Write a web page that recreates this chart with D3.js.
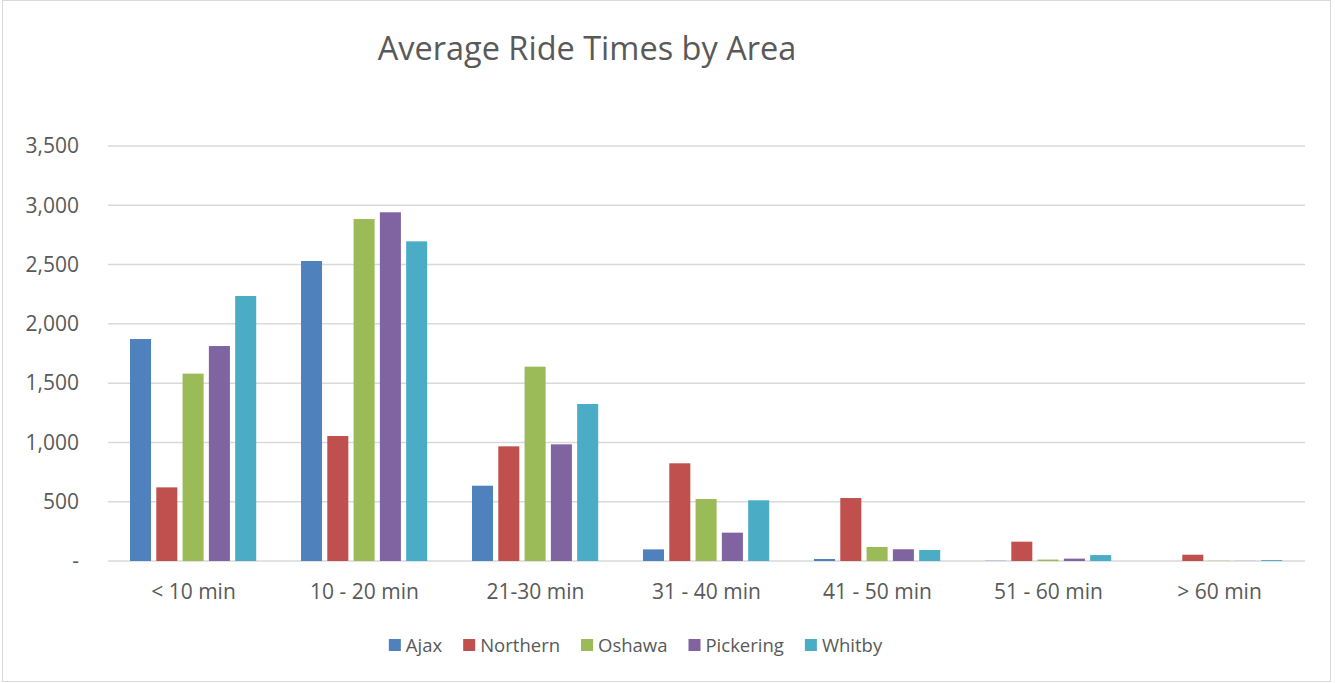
<!DOCTYPE html>
<html lang="en">
<head>
  <meta charset="UTF-8">
  <title>Average Ride Times by Area</title>
  <style>
    html, body { margin: 0; background: #fff; }
    text { font-family: 'Open Sans', sans-serif; fill: #595959; }
    .grid line { stroke: #d9d9d9; stroke-width: 1.5px; }
  </style>
</head>
<body>
<svg width="1335" height="683"></svg>
<script src="https://d3js.org/d3.v7.min.js"></script>
<script>

// data
const categories = ["< 10 min", "10 - 20 min", "21-30 min", "31 - 40 min", "41 - 50 min", "51 - 60 min", "> 60 min"];
const series = ["Ajax", "Northern", "Oshawa", "Pickering", "Whitby"];
const ajax      = [1872, 2530,  635,  98,  17,   2,  0];
const northern  = [ 621, 1054,  967, 824, 531, 163, 53];
const oshawa    = [1580, 2884, 1639, 523, 118,  12,  2];
const pickering = [1813, 2941,  984, 239,  99,  20,  1];
const whitby    = [2235, 2696, 1324, 512,  93,  50,  8];
const yTicks = [0, 500, 1000, 1500, 2000, 2500, 3000, 3500];

const values = {Ajax: ajax, Northern: northern, Oshawa: oshawa, Pickering: pickering, Whitby: whitby};
const colors = {Ajax: "#4f81bd", Northern: "#c0504d", Oshawa: "#9bbb59", Pickering: "#8064a2", Whitby: "#4bacc6"};

const svg = d3.select("svg"),
    margin = {top: 146, right: 30, bottom: 122, left: 108},
    width = 1305 - margin.left,
    height = 561 - margin.top;

// outer border
svg.append("rect")
    .attr("x", 2.5).attr("y", 0.5)
    .attr("width", 1328).attr("height", 681)
    .attr("fill", "none")
    .attr("stroke", "#d9d9d9");

svg.append("text")
    .attr("x", 587)
    .attr("y", 60)
    .attr("text-anchor", "middle")
    .style("font-size", "32.5px")
    .text("Average Ride Times by Area");

const g = svg.append("g")
    .attr("transform", "translate(" + margin.left + "," + margin.top + ")");

const x0 = d3.scaleBand().domain(categories).range([0, width]);
const x1 = d3.scaleBand().domain(series)
    .range([22, 22 + 126.2])
    .paddingInner(0.2);
const y = d3.scaleLinear().domain([0, 3500]).range([height, 0]);

// gridlines
g.append("g")
    .attr("class", "grid")
    .selectAll("line")
    .data(yTicks)
    .join("line")
    .attr("x1", 0).attr("x2", width)
    .attr("y1", d => y(d)).attr("y2", d => y(d));

// y labels
const yAxis = d3.axisLeft(y)
    .tickValues(yTicks)
    .tickSize(0)
    .tickPadding(29)
    .tickFormat(d => d === 0 ? "-" : d3.format(",")(d));
g.append("g").call(yAxis)
    .call(a => a.select(".domain").remove())
    .selectAll("text")
    .style("font-size", "21px")
    .attr("fill", "#595959");

// bars
const groups = g.append("g")
    .selectAll("g")
    .data(categories)
    .join("g")
    .attr("transform", d => "translate(" + x0(d) + ",0)");

groups.selectAll("rect")
    .data((c, i) => series.map(s => ({key: s, value: values[s][i]})))
    .join("rect")
    .attr("x", d => x1(d.key))
    .attr("width", x1.bandwidth())
    .attr("y", d => y(d.value))
    .attr("height", d => height - y(d.value))
    .attr("fill", d => colors[d.key]);

// x labels
const xAxis = d3.axisBottom(x0).tickSize(0).tickPadding(23);
g.append("g")
    .attr("transform", "translate(0," + height + ")")
    .call(xAxis)
    .call(a => a.select(".domain").remove())
    .selectAll("text")
    .style("font-size", "21px")
    .attr("fill", "#595959");

// legend
const legend = svg.append("g");
const items = legend.selectAll("g")
    .data(series)
    .join("g");
items.append("rect")
    .attr("width", 12).attr("height", 12)
    .attr("y", 639)
    .attr("fill", d => colors[d]);
items.append("text")
    .attr("x", 17)
    .attr("y", 652)
    .style("font-size", "18.5px")
    .text(d => d);

let offset = 0;
const widths = [];
items.each(function () {
    const w = 17 + d3.select(this).select("text").node().getComputedTextLength();
    widths.push(w);
});
const gap = 21;
const total = d3.sum(widths) + gap * (widths.length - 1);
let start = 635.5 - total / 2;
items.attr("transform", (d, i) => {
    const t = "translate(" + (start + offset) + ",0)";
    offset += widths[i] + gap;
    return t;
});

</script>
</body>
</html>
